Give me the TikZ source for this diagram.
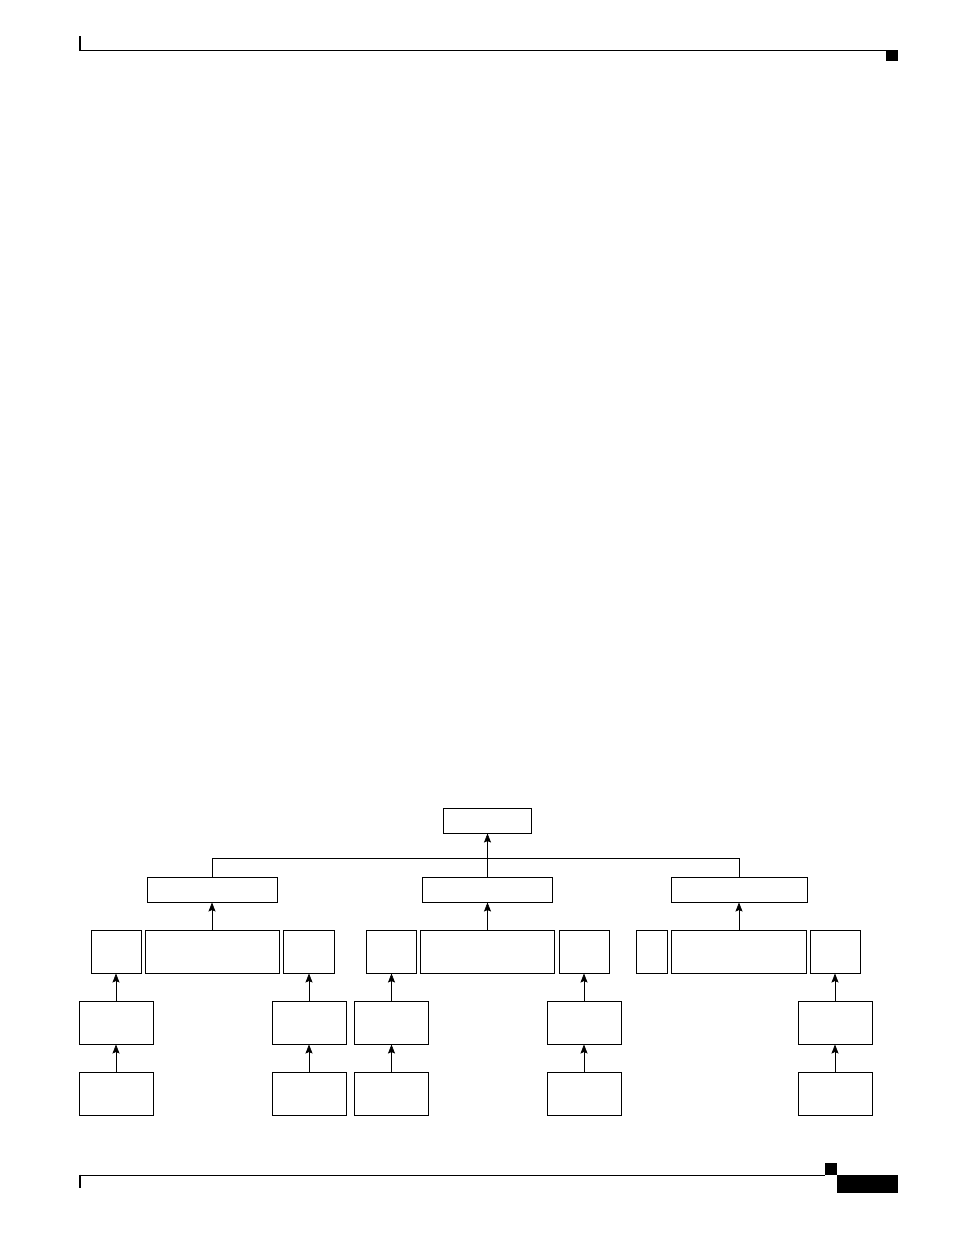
\documentclass[tikz,border=0pt]{standalone}
\usetikzlibrary{arrows.meta,positioning}

\begin{document}
\begin{tikzpicture}[x=1pt,y=-1pt,%
		   box/.style={draw,rectangle,inner sep=0pt,line width=1pt},
		   link/.style={-{Stealth[length=9pt,width=7pt,inset=1.5pt,fill=black,line width=0.6pt]},line width=1pt}]
	\useasboundingbox (0,0) rectangle (954,1235);

	% page header and footer
	\draw[line width=2pt] (80,36) -- (80,50.5);
	\draw[line width=1pt] (79,50) -- (886,50);
	\fill (886,50) rectangle (898,61);
	\draw[line width=1pt] (79,1175) -- (825,1175);
	\draw[line width=2pt] (80,1174.5) -- (80,1188);
	\fill (825,1163) rectangle (837,1175);
	\fill (837,1175) rectangle (898,1193);

	\node[box,minimum width=88pt,minimum height=25pt](top) at (487.5,820.5) {};

	\foreach \nm/\cx/\w in {a1/116/50,a2/212/134,a3/308.5/51,%
		    b1/391/50,b2/487.5/134,b3/584/50,%
		    c1/651.5/31,c2/739/135,c3/835/50}
	   { \node[box,minimum width=\w pt,minimum height=43pt](\nm) at (\cx,951.5) {}; }

	\foreach \nm/\cx/\w in {a/212/130,b/487.5/130,c/739/136}
	   { \node[box,minimum width=\w pt,minimum height=25pt](grp-\nm) at (\cx,889.5) {};
	     \draw[link] (\nm2) -- (grp-\nm);
	   }

	\coordinate (bus) at (0,858);
	\draw[line width=1pt] (grp-a.north) -- (grp-a.north |- bus) -- (grp-c.north |- bus) -- (grp-c.north);
	\draw[link] (grp-b) -- (top);

	\foreach \cx/\up [count=\i] in {116/a1,309/a3,391.5/b1,584/b3,835/c3}
	   { \node[box,minimum width=74pt,minimum height=43pt](cfg-\i) at (\cx,1022.5) {};
	     \node[box,minimum width=74pt,minimum height=43pt](src-\i) at (\cx,1093.5) {};
	     \draw[link] (src-\i) -- (cfg-\i);
	     \draw[link] (cfg-\i.north) -- (cfg-\i.north |- \up.south);% small boxes sit a bit off centre
	   }
\end{tikzpicture}
\end{document}
